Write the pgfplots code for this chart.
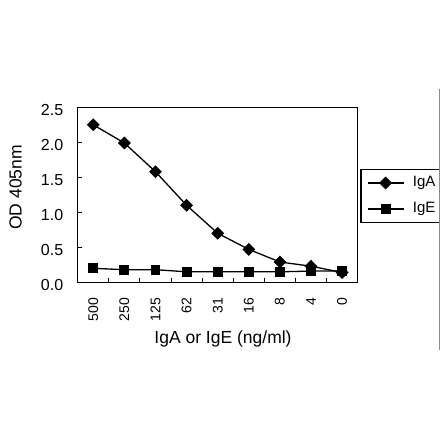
\documentclass[border=0pt]{standalone}
\usepackage{fontspec}
\setmainfont{Liberation Sans}
\usepackage{pgfplots}
\pgfplotsset{compat=1.18}

\begin{document}
\begin{tikzpicture}
\path[use as bounding box] (0,0) rectangle (440bp,441bp);
\begin{axis}[
    at={(77.7bp,158.7bp)}, anchor=south west,
    scale only axis, width=280bp, height=175bp,
    xmin=-0.5, xmax=8.5, ymin=0, ymax=2.5,
    axis line style={line width=1.1bp},
    /pgf/number format/assume math mode=true,
    xtick={0,...,8},
    xticklabels={500,250,125,62,31,16,8,4,0},
    major x tick style={draw=none},
    minor xtick={0.5,1.5,...,7.5},
    minor tick length=4bp,
    ytick={0,0.5,...,2.5},
    yticklabel style={/pgf/number format/fixed, /pgf/number format/fixed zerofill, /pgf/number format/precision=1, font=\fontsize{16bp}{18bp}\selectfont, yshift=-2.5bp, xshift=-11bp},
    major tick length=4.5bp,
    tick align=inside,
    tick style={black, line width=0.9bp},
    xtick pos=bottom, ytick pos=left,
    xticklabel style={rotate=90, anchor=east, font=\fontsize{14bp}{16bp}\selectfont, xshift=-12bp},
    xlabel={IgA or IgE (ng/ml)},
    ylabel={OD 405nm},
    xlabel style={font=\fontsize{17.5bp}{20bp}\selectfont, at={(axis description cs:0.519,-0.325)}, anchor=center},
    ylabel style={font=\fontsize{17.5bp}{20bp}\selectfont, at={(axis description cs:-0.222,0.542)}, anchor=center},
    legend style={at={(1.0096,0.648)}, anchor=north west, draw=black, line width=1.2bp,
        inner xsep=6bp, inner ysep=6.5bp, column sep=8.7bp, row sep=12bp,
        nodes={inner sep=0pt, text height=11bp, text depth=3bp},
        font=\fontsize{15bp}{17bp}\selectfont},
    legend image code/.code={
        \draw[mark repeat=2, mark phase=2, #1] plot coordinates {(0bp,0bp) (18bp,0bp) (36bp,0bp)};
    },
]
\addplot[black, line width=1.3bp, mark=diamond*, mark size=5.5bp, mark options={xscale=1.33}]
    coordinates {(0,2.25) (1,1.99) (2,1.58) (3,1.10) (4,0.70) (5,0.47) (6,0.29) (7,0.23) (8,0.14)};
\addlegendentry{IgA}
\addplot[black, line width=1.3bp, mark=square*, mark size=4.3bp]
    coordinates {(0,0.20) (1,0.18) (2,0.18) (3,0.15) (4,0.15) (5,0.15) (6,0.15) (7,0.16) (8,0.16)};
\addlegendentry{IgE}
\end{axis}
\draw[black!45, line width=0.8bp] (439bp,352bp) -- (439bp,91bp);
\end{tikzpicture}
\end{document}
